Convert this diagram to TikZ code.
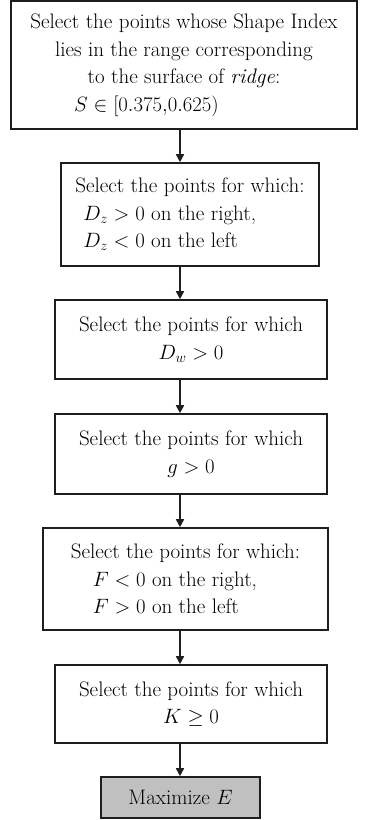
\documentclass[tikz,border=0pt]{standalone}
\usetikzlibrary{arrows.meta, positioning, calc}
\definecolor{boxline}{HTML}{1E1E1E}
\definecolor{maxgray}{HTML}{C0C0C0}

\tikzset{
  stepbox/.style={draw=boxline, line width=1.6pt, inner sep=0pt, font=\fontsize{21}{27.5}\selectfont},
  flowarrow/.style={draw=boxline, line width=1.6pt, -{Triangle[length=8pt,width=8pt]}}
}

\begin{document}
\begin{tikzpicture}[x=1pt, y=-1pt]
          \useasboundingbox (0,0) rectangle (369,820);

          % Bloques del proceso
          \node[stepbox, minimum width=346pt, minimum height=128pt, align=center] (shape) at (184,65)
            {Select the points whose Shape Index\\lies in the range corresponding\\to the surface of \textit{ridge}:\\$S\in[0.375{,}0.625)$\hspace*{75pt}};
          \node[stepbox, minimum width=258pt, minimum height=103pt, align=left] (dz) at (190,214.5)
            {Select the points for which:\\\hspace*{8pt}$D_z>0$ on the right,\\\hspace*{8pt}$D_z<0$ on the left};
          \node[stepbox, minimum width=272pt, minimum height=79pt, align=center] (dw) at (191,339.5)
            {Select the points for which\\$D_w>0$};
          \node[stepbox, minimum width=272pt, minimum height=80pt, align=center] (gg) at (191,454)
            {Select the points for which\\$g>0$};
          \node[stepbox, minimum width=285pt, minimum height=102pt, align=left] (ff) at (185.5,579)
            {Select the points for which:\\\hspace*{22pt}$F<0$ on the right,\\\hspace*{22pt}$F>0$ on the left};
          \node[stepbox, minimum width=272pt, minimum height=78pt, align=center] (kk) at (191,704)
            {Select the points for which\\$K\ge0$};
          \node[stepbox, fill=maxgray, minimum width=159pt, minimum height=41pt] (maxe) at (180.5,797.5)
            {Maximize $E$};

          % Flechas
          \coordinate (ax) at (180,0);
          \draw[flowarrow] (ax |- shape.south) -- (ax |- dz.north);
          \draw[flowarrow] (ax |- dz.south) -- (ax |- dw.north);
          \draw[flowarrow] (ax |- dw.south) -- (ax |- gg.north);
          \draw[flowarrow] (ax |- gg.south) -- (ax |- ff.north);
          \draw[flowarrow] (ax |- ff.south) -- (ax |- kk.north);
          \draw[flowarrow] (ax |- kk.south) -- (ax |- maxe.north);
        \end{tikzpicture}
\end{document}
